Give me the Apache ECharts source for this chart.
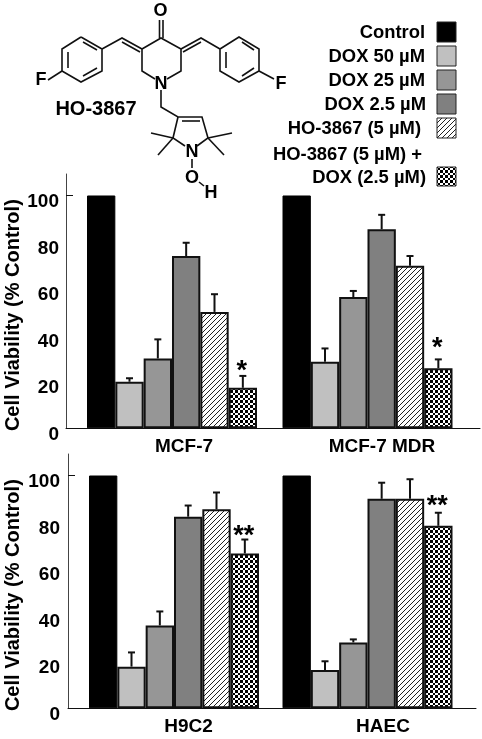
<!DOCTYPE html>
<html>
<head>
<meta charset="utf-8">
<title>HO-3867 cell viability</title>
<script src="https://cdn.jsdelivr.net/npm/echarts@6/dist/echarts.min.js"></script>
<style>
    html, body { margin: 0; padding: 0; background: #fff; }
    #main { width: 482px; height: 739px; }
</style>
</head>
<body>
<div id="main"></div>
<script>
const treatments = ['Control', 'DOX 50 µM', 'DOX 25 µM', 'DOX 2.5 µM', 'HO-3867 (5 µM)', 'HO-3867 (5 µM) + DOX (2.5 µM)']
const yTicks = [0, 20, 40, 60, 80, 100]

const panelNames = ['MCF-7', 'MCF-7 MDR', 'H9C2', 'HAEC']

const mcf7Values = [100, 20, 30, 74, 50, 17.4]
const mcf7Tops = [null, 21.5, 38.2, 79.7, 57.6, 22.5]
const mcf7Marks = ['', '', '', '', '', '*']

const mdrValues = [100, 28.6, 56.4, 85.5, 69.8, 25.8]
const mdrTops = [null, 34.3, 59, 91.7, 74, 29.6]
const mdrMarks = ['', '', '', '', '', '*']

const h9c2Values = [100, 17.9, 35.6, 82.3, 85.5, 66.5]
const h9c2Tops = [null, 24, 41.6, 87.1, 92.7, 72.5]
const h9c2Marks = ['', '', '', '', '', '**']

const haecValues = [100, 16.5, 28.3, 90, 90, 78.4]
const haecTops = [null, 20.2, 29.6, 96.9, 98.4, 84]
const haecMarks = ['', '', '', '', '', '**']

const FONT = '"Liberation Sans", Arial, sans-serif'

function hatchFill() {
    const c = document.createElement('canvas')
    c.width = c.height = 5
    const g = c.getContext('2d')
    g.fillStyle = '#fff'
    g.fillRect(0, 0, 5, 5)
    g.strokeStyle = '#222'
    g.lineWidth = 1
    g.beginPath()
    g.moveTo(-1, 6); g.lineTo(6, -1)
    g.moveTo(-4, 4); g.lineTo(4, -4)
    g.moveTo(1, 9); g.lineTo(9, 1)
    g.stroke()
    return { image: c, repeat: 'repeat' }
}

function checkFill() {
    const c = document.createElement('canvas')
    c.width = c.height = 5
    const g = c.getContext('2d')
    g.fillStyle = '#fff'
    g.fillRect(0, 0, 5, 5)
    g.fillStyle = '#000'
    g.fillRect(0, 0, 3, 3)
    g.fillRect(3, 3, 2, 2)
    return { image: c, repeat: 'repeat' }
}

const fills = ['#000', '#c0c0c0', '#969696', '#808080', hatchFill(), checkFill()]

// left of the bars of each panel, shift of the name, gap above the error bar
const panels = [
    { name: panelNames[0], values: mcf7Values, tops: mcf7Tops, marks: mcf7Marks, left: 87, row: 0, shift: 24, markGap: 10 },
    { name: panelNames[1], values: mdrValues, tops: mdrTops, marks: mdrMarks, left: 282.5, row: 0, shift: 29, markGap: 17 },
    { name: panelNames[2], values: h9c2Values, tops: h9c2Tops, marks: h9c2Marks, left: 89, row: 1, shift: 29, markGap: 9 },
    { name: panelNames[3], values: haecValues, tops: haecTops, marks: haecMarks, left: 282.5, row: 1, shift: 31, markGap: 12 }
]
const rows = [
    { left: 66, right: 2, top: 174, height: 254.3, nameGap: 43, labelMargin: 7 },
    { left: 68, right: 6, top: 454, height: 254.3, nameGap: 45, labelMargin: 8 }
]
const PX_PER_UNIT = 2.328
const yMax = 254.3 / PX_PER_UNIT

const grid = []
const xAxis = []
const yAxis = []
const series = []

// one grid per row holds the long baseline and the y axis
rows.forEach(function (r) {
    grid.push({ left: r.left, right: r.right, top: r.top, height: r.height, outerBoundsMode: 'none' })
    xAxis.push({
        type: 'value', gridIndex: grid.length - 1, min: 0, max: 1,
        axisLine: { show: true, lineStyle: { color: '#111', width: 1 } },
        axisTick: { show: false }, axisLabel: { show: false }, splitLine: { show: false }
    })
    yAxis.push({
        type: 'value', gridIndex: grid.length - 1, min: 0, max: yMax,
        name: 'Cell Viability (% Control)',
        nameLocation: 'middle', nameGap: r.nameGap, nameRotate: 90, nameMoveOverlap: false,
        nameTextStyle: { fontFamily: FONT, fontWeight: 'bold', fontSize: 20, color: '#000', padding: [0, 28, 0, 0] },
        axisLine: { show: true, onZero: false, lineStyle: { color: '#444', width: 1 } },
        axisTick: { show: true, inside: true, length: 7, customValues: [100], lineStyle: { color: '#111' } },
        axisLabel: {
            customValues: yTicks, margin: r.labelMargin, verticalAlign: 'top', lineHeight: 13,
            fontFamily: FONT, fontWeight: 'bold', fontSize: 19, color: '#000'
        },
        splitLine: { show: false }
    })
})

panels.forEach(function (p) {
    const r = rows[p.row]
    grid.push({ left: p.left, width: 170, top: r.top, height: r.height, outerBoundsMode: 'none' })
    const idx = grid.length - 1
    xAxis.push({
        type: 'category', gridIndex: idx, data: treatments,
        name: p.name, nameLocation: 'middle', nameGap: 9,
        nameTextStyle: { fontFamily: FONT, fontWeight: 'bold', fontSize: 19, color: '#000', padding: [0, 0, 0, p.shift] },
        axisLine: { show: false }, axisTick: { show: false }, axisLabel: { show: false }
    })
    yAxis.push({ type: 'value', gridIndex: idx, min: 0, max: yMax, show: false })

    series.push({
        type: 'bar', xAxisIndex: idx, yAxisIndex: idx, barWidth: '100%', silent: true,
        data: p.values.map(function (v, i) {
            return {
                value: v,
                itemStyle: { color: fills[i], borderColor: i === 0 ? '#000' : '#111', borderWidth: i === 0 ? 1 : 2 }
            }
        })
    })
    series.push({
        type: 'custom', xAxisIndex: idx, yAxisIndex: idx, silent: true, z: 1,
        data: p.tops.map(function (t, i) { return [i, p.values[i], t] }),
        renderItem: function (params, api) {
            if (api.value(2) !== api.value(2)) return null
            const a = api.coord([api.value(0), api.value(1)])
            const b = api.coord([api.value(0), api.value(2)])
            const children = [
                { type: 'line', shape: { x1: a[0], y1: a[1], x2: b[0], y2: b[1] }, style: { stroke: '#111', lineWidth: 2 } },
                { type: 'line', shape: { x1: b[0] - 3.5, y1: b[1], x2: b[0] + 3.5, y2: b[1] }, style: { stroke: '#111', lineWidth: 2 } }
            ]
            const mark = p.marks[params.dataIndex]
            if (mark) {
                children.push({
                    type: 'text',
                    style: { text: mark, x: b[0] - 1, y: b[1] - p.markGap + 6, align: 'center', verticalAlign: 'middle',
                        font: 'bold 27px ' + FONT, fill: '#000' }
                })
            }
            return { type: 'group', children: children }
        }
    })
})

// legend, text right aligned next to the swatch
const legendRows = [
    { label: ['Control'], textX: 425, ys: [33], boxY: 22 },
    { label: ['DOX 50 µM'], textX: 425, ys: [57], boxY: 46 },
    { label: ['DOX 25 µM'], textX: 425, ys: [81], boxY: 70 },
    { label: ['DOX 2.5 µM'], textX: 426, ys: [105], boxY: 94 },
    { label: ['HO-3867 (5 µM)'], textX: 421, ys: [129], boxY: 118 },
    { label: ['HO-3867 (5 µM) +', 'DOX (2.5 µM)'], textX: 426, ys: [155, 178], boxY: 167 }
]
const graphic = []
legendRows.forEach(function (l, i) {
    graphic.push({
        type: 'rect', shape: { x: 437, y: l.boxY, width: 19, height: i === 5 ? 19 : 20 },
        style: { fill: fills[i], stroke: '#222', lineWidth: 1 }
    })
    l.label.forEach(function (t, j) {
        const right = i === 5 && j === 0 ? 422 : l.textX
        graphic.push({
            type: 'text',
            style: { text: t, x: right, y: l.ys[j], align: 'right', verticalAlign: 'middle', font: 'bold 18.4px ' + FONT, fill: '#000' }
        })
    })
})

// HO-3867 structure
const bonds = [
    [[81, 37], [102, 49], [102, 71], [81, 82], [62, 71], [62, 49], [81, 37]],
    [[68, 52], [68, 68]], [[83, 42], [97, 50]], [[83, 76], [97, 68]],
    [[48, 80], [62, 71]],
    [[102, 49], [122, 38], [142, 49]], [[122, 42], [140, 52]],
    [[142, 49], [161, 38], [181, 49], [181, 71], [167, 79]], [[142, 49], [142, 71], [155, 79]],
    [[159.5, 38], [159.5, 20]], [[163, 38], [163, 20]],
    [[181, 49], [201, 38], [220, 49]], [[183, 52], [201, 42]],
    [[220, 49], [239, 37], [259, 49], [259, 71], [239, 82], [220, 71], [220, 49]],
    [[226, 52], [226, 68]], [[242, 42], [254, 50]], [[242, 76], [254, 68]],
    [[259, 71], [274, 79]],
    [[161, 90], [161, 107], [178, 117], [202, 117], [208, 138], [197, 146]],
    [[178, 117], [173, 138], [185, 146]], [[182, 121], [200, 121]],
    [[173, 138], [151, 133]], [[173, 138], [158, 155]],
    [[208, 138], [232, 133]], [[208, 138], [224, 155]],
    [[192, 159], [192, 168]], [[199, 182], [204, 186]]
]
bonds.forEach(function (b) {
    graphic.push({ type: 'polyline', shape: { points: b }, style: { fill: 'none', stroke: '#111', lineWidth: 1.6 } })
})
const atoms = [
    ['O', 160.5, 11], ['F', 41, 80], ['F', 281, 84], ['N', 161, 84], ['N', 192, 152], ['O', 192, 178], ['H', 211, 193]
]
atoms.forEach(function (a) {
    graphic.push({
        type: 'text',
        style: { text: a[0], x: a[1], y: a[2], align: 'center', verticalAlign: 'middle', font: 'bold 18px ' + FONT, fill: '#000' }
    })
})
graphic.push({
    type: 'text',
    style: { text: 'HO-3867', x: 96, y: 109, align: 'center', verticalAlign: 'middle', font: 'bold 20px ' + FONT, fill: '#000' }
})

const myChart = echarts.init(document.querySelector('#main'), null, { renderer: 'canvas' })
myChart.setOption({
    animation: false,
    backgroundColor: '#fff',
    tooltip: { show: false },
    grid: grid,
    xAxis: xAxis,
    yAxis: yAxis,
    series: series,
    graphic: graphic
})
</script>
</body>
</html>
